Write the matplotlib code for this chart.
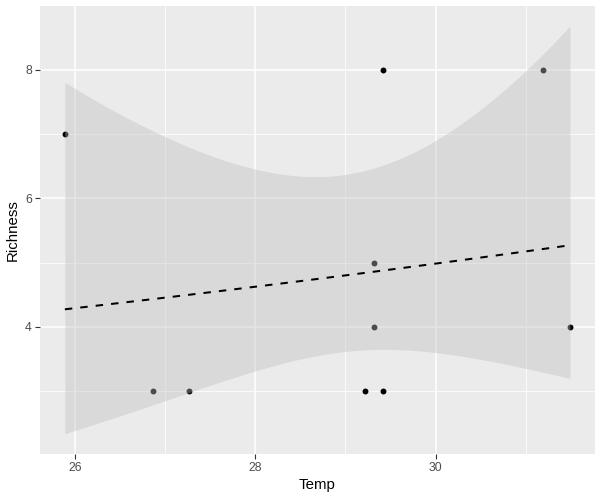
import numpy as np
import matplotlib.pyplot as plt
from matplotlib.ticker import MultipleLocator

# Data
temp = [25.89, 26.87, 27.27, 29.22, 29.32, 29.32, 29.42, 29.42, 31.19, 31.49]
richness = [7, 3, 3, 3, 5, 4, 8, 3, 8, 4]
x_ticks = [26, 28, 30]
y_ticks = [4, 6, 8]

x = np.array(temp)
y = np.array(richness, dtype=float)

# Poisson GLM fit (log link) via IRLS, with 95% band on the link scale
X = np.column_stack([np.ones_like(x), x])
beta = np.array([np.log(y.mean()), 0.0])
for _ in range(50):
    mu = np.exp(X @ beta)
    z = X @ beta + (y - mu) / mu
    XtW = X.T * mu
    beta = np.linalg.solve(XtW @ X, XtW @ z)
mu = np.exp(X @ beta)
cov = np.linalg.inv((X.T * mu) @ X)

xs = np.linspace(x.min(), x.max(), 80)
Xs = np.column_stack([np.ones_like(xs), xs])
eta = Xs @ beta
se = np.sqrt(np.einsum('ij,jk,ik->i', Xs, cov, Xs))
fit = np.exp(eta)
lower = np.exp(eta - 1.96 * se)
upper = np.exp(eta + 1.96 * se)

plt.rcParams['font.family'] = ['Liberation Sans', 'DejaVu Sans']

fig = plt.figure(figsize=(6, 5), dpi=100)
ax = fig.add_axes([0.066, 0.092, 0.926, 0.897])
ax.set_facecolor('#EBEBEB')

ax.scatter(x, y, s=18, color='black', zorder=3, linewidths=0)
ax.fill_between(xs, lower, upper, color='#BEBEBE', alpha=0.4, linewidth=0, zorder=4)
ax.plot(xs, fit, color='black', linewidth=1.45, linestyle=(0, (3.7, 4)), zorder=5)

ax.set_xticks(x_ticks)
ax.set_yticks(y_ticks)
ax.xaxis.set_minor_locator(MultipleLocator(1))
ax.yaxis.set_minor_locator(MultipleLocator(1))
ax.grid(which='major', color='white', linewidth=1.1)
ax.grid(which='minor', color='white', linewidth=0.55)
ax.set_axisbelow(True)
ax.margins(x=0.05, y=0.05)
for sp in ax.spines.values():
    sp.set_visible(False)

ax.tick_params(which='major', length=3.5, width=0.8, color='#333333',
               labelcolor='#4D4D4D', labelsize=8.8, pad=2)
ax.tick_params(which='minor', length=0)
ax.set_xlabel('Temp', fontsize=10.8, labelpad=3)
ax.set_ylabel('Richness', fontsize=10.8, labelpad=4)

fig.savefig('out.png', dpi=100)
